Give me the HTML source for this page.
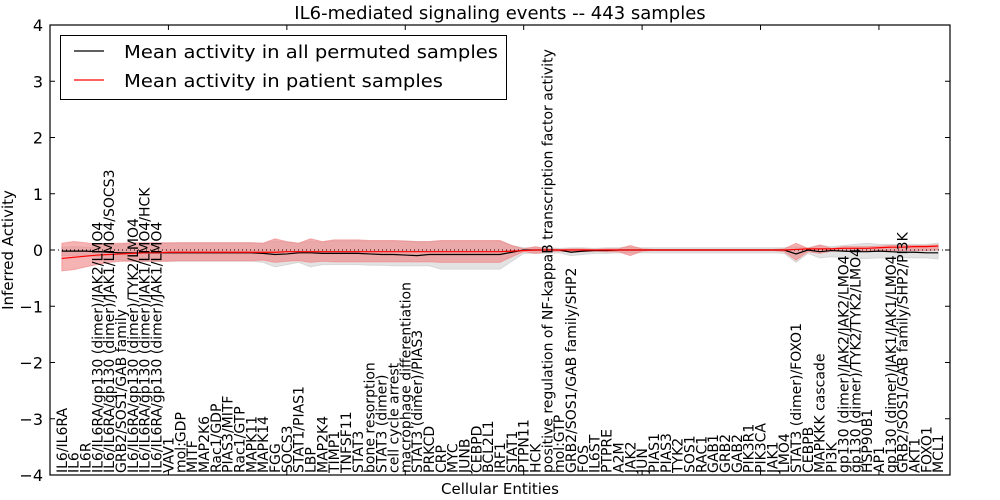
<!DOCTYPE html>
<html><head><meta charset="utf-8"><style>
html,body{margin:0;padding:0;background:#fff;}
svg{display:block;font-family:"DejaVu Sans","Liberation Sans",sans-serif;}
</style></head><body>
<svg id="chart" width="1000" height="500" xmlns="http://www.w3.org/2000/svg">
<text x="500" y="19" font-size="18" text-anchor="middle">IL6-mediated signaling events -- 443 samples</text>
<text x="500" y="494" font-size="15" text-anchor="middle">Cellular Entities</text>
<text transform="translate(13,250) rotate(-90)" font-size="15" text-anchor="middle">Inferred Activity</text>
<g id="plot"></g>
</svg>
<script>
const categories=["IL6/IL6RA","IL6","IL6R","IL6/IL6RA/gp130 (dimer)/JAK2/LMO4","IL6/IL6RA/gp130 (dimer)/JAK1/LMO4/SOCS3","GRB2/SOS1/GAB family","IL6/IL6RA/gp130 (dimer)/TYK2/LMO4","IL6/IL6RA/gp130 (dimer)/JAK1/LMO4/HCK","IL6/IL6RA/gp130 (dimer)/JAK1/LMO4","VAV1","mol:GDP","MITF","MAP2K6","Rac1/GDP","PIAS3/MITF","Rac1/GTP","MAPK11","MAPK14","FGG","SOCS3","STAT1/PIAS1","LBP","MAP2K4","TIMP1","TNFSF11","STAT3","bone resorption","STAT3 (dimer)","cell cycle arrest","macrophage differentiation","STAT3 (dimer)/PIAS3","PRKCD","CRP","MYC","JUNB","CEBPD","BCL2L1","IRF1","STAT1","PTPN11","HCK","positive regulation of NF-kappaB transcription factor activity","mol:GTP","GRB2/SOS1/GAB family/SHP2","FOS","IL6ST","PTPRE","A2M","JAK2","JUN","PIAS1","PIAS3","TYK2","SOS1","RAC1","GAB1","GRB2","GAB2","PIK3R1","PIK3CA","JAK1","LMO4","STAT3 (dimer)/FOXO1","CEBPB","MAPKKK cascade","PI3K","gp130 (dimer)/JAK2/JAK2/LMO4","gp130 (dimer)/TYK2/TYK2/LMO4","HSP90B1","AP1","gp130 (dimer)/JAK1/JAK1/LMO4","GRB2/SOS1/GAB family/SHP2/PI3K","AKT1","FOXO1","MCL1"];
const patientMean=[-0.15,-0.13,-0.11,-0.09,-0.08,-0.07,-0.06,-0.05,-0.05,-0.04,-0.04,-0.04,-0.04,-0.04,-0.04,-0.04,-0.04,-0.04,-0.04,-0.03,-0.03,-0.03,-0.03,-0.03,-0.03,-0.03,-0.03,-0.03,-0.03,-0.03,-0.03,-0.03,-0.03,-0.03,-0.03,-0.03,-0.03,-0.03,-0.02,-0.01,0,0,0,0,0,0,0,0,0,0,0,0,0,0,0,0,0,0,0,0,0,0,0.01,0.02,0.02,0.02,0.03,0.03,0.03,0.04,0.05,0.05,0.06,0.06,0.07];
const patientHi=[0.12,0.15,0.13,0.1,0.12,0.12,0.13,0.13,0.13,0.13,0.13,0.13,0.13,0.13,0.13,0.13,0.13,0.12,0.2,0.15,0.12,0.2,0.15,0.18,0.18,0.18,0.17,0.17,0.17,0.16,0.15,0.15,0.17,0.17,0.17,0.17,0.17,0.17,0.08,0.02,0.06,0.02,0.01,0.02,0.02,0.01,0.02,0.02,0.08,0.02,0.01,0.01,0.01,0.01,0.01,0.01,0.01,0.01,0.01,0.01,0.01,0.02,0.12,0.03,0.09,0.03,0.06,0.06,0.06,0.07,0.08,0.08,0.08,0.08,0.09];
const patientLo=[-0.37,-0.35,-0.3,-0.26,-0.22,-0.2,-0.2,-0.2,-0.2,-0.2,-0.19,-0.19,-0.19,-0.19,-0.19,-0.19,-0.19,-0.18,-0.22,-0.2,-0.19,-0.22,-0.2,-0.21,-0.21,-0.21,-0.21,-0.21,-0.21,-0.21,-0.21,-0.21,-0.22,-0.22,-0.22,-0.22,-0.22,-0.22,-0.12,-0.03,-0.06,-0.03,-0.02,-0.03,-0.03,-0.02,-0.03,-0.03,-0.1,-0.02,-0.01,-0.01,-0.01,-0.01,-0.01,-0.01,-0.01,-0.01,-0.01,-0.01,-0.01,-0.03,-0.18,-0.03,-0.06,-0.02,-0.02,-0.02,-0.02,-0.02,-0.01,-0.01,-0.01,-0.01,0];
const permMean=[-0.02,-0.02,-0.02,-0.03,-0.04,-0.05,-0.05,-0.05,-0.05,-0.05,-0.05,-0.05,-0.05,-0.05,-0.05,-0.05,-0.05,-0.06,-0.08,-0.07,-0.05,-0.05,-0.06,-0.06,-0.06,-0.06,-0.07,-0.08,-0.08,-0.09,-0.1,-0.08,-0.08,-0.08,-0.08,-0.08,-0.08,-0.08,-0.04,0,0,0,0,-0.04,-0.02,-0.01,-0.01,0,0,0,0,0,0,0,0,0,0,0,0,0,0,0,-0.07,0,-0.03,-0.01,-0.02,-0.03,-0.03,-0.02,-0.03,-0.04,-0.04,-0.05,-0.05];
const permHi=[0.05,0.06,0.05,0.05,0.08,0.1,0.12,0.12,0.12,0.12,0.13,0.13,0.13,0.13,0.13,0.13,0.13,0.12,0.16,0.14,0.12,0.16,0.14,0.16,0.16,0.16,0.16,0.16,0.16,0.16,0.15,0.15,0.16,0.16,0.16,0.16,0.16,0.16,0.08,0.04,0.04,0.04,0.03,0.04,0.04,0.03,0.04,0.04,0.05,0.04,0.04,0.04,0.04,0.04,0.04,0.04,0.04,0.04,0.04,0.04,0.04,0.04,0.06,0.04,0.08,0.06,0.08,0.1,0.12,0.1,0.1,0.1,0.1,0.1,0.12];
const permLo=[-0.1,-0.1,-0.1,-0.12,-0.16,-0.18,-0.2,-0.2,-0.2,-0.2,-0.2,-0.2,-0.2,-0.2,-0.2,-0.2,-0.2,-0.22,-0.3,-0.26,-0.22,-0.3,-0.26,-0.26,-0.26,-0.26,-0.27,-0.27,-0.28,-0.28,-0.28,-0.28,-0.34,-0.34,-0.34,-0.34,-0.34,-0.34,-0.2,-0.06,-0.06,-0.06,-0.05,-0.1,-0.08,-0.06,-0.06,-0.05,-0.05,-0.05,-0.05,-0.05,-0.05,-0.05,-0.05,-0.05,-0.05,-0.05,-0.05,-0.05,-0.05,-0.06,-0.22,-0.06,-0.14,-0.12,-0.14,-0.15,-0.15,-0.14,-0.14,-0.14,-0.14,-0.14,-0.16];
const yTicks=[4,3,2,1,0,-1,-2,-3,-4];
const xTicks=[10,20,30,40,50,60,70];

const L=50,R=950,T=25,B=475,XMAX=76,YMIN=-4,YMAX=4;
const sx=v=>L+v/XMAX*(R-L);
const sy=v=>T+(YMAX-v)/(YMAX-YMIN)*(B-T);
const NS="http://www.w3.org/2000/svg";
const g=document.getElementById('plot');
function mk(tag,attrs,parent){const e=document.createElementNS(NS,tag);for(const k in attrs)e.setAttribute(k,attrs[k]);(parent||g).appendChild(e);return e;}
function band(hi,lo){let d='';hi.forEach((v,i)=>{d+=(i?'L':'M')+sx(i+1)+','+sy(v);});for(let i=lo.length-1;i>=0;i--)d+='L'+sx(i+1)+','+sy(lo[i]);return d+'Z';}
function line(arr){return arr.map((v,i)=>(i?'L':'M')+sx(i+1)+','+sy(v)).join('');}

let e;
e=mk('path',{d:band(permHi,permLo),fill:'#c8c8c8','fill-opacity':'0.5',stroke:'#c8c8c8','stroke-opacity':'0.6'});


e=mk('path',{d:band(patientHi,patientLo),fill:'#f08080','fill-opacity':'0.6',stroke:'#f08080','stroke-opacity':'0.6'});


e=mk('line',{x1:L,x2:R,y1:sy(0),y2:sy(0),stroke:'#000','stroke-dasharray':'1,3','stroke-width':1});


e=mk('path',{d:line(permMean),fill:'none',stroke:'#000','stroke-width':1.2});


e=mk('path',{d:line(patientMean),fill:'none',stroke:'#ff0000','stroke-width':1.2});



yTicks.forEach(v=>{
  const t=mk('line',{x1:L,x2:L+5,y1:sy(v),y2:sy(v),stroke:'#000'});
  
  
  const t2=mk('line',{x1:R-5,x2:R,y1:sy(v),y2:sy(v),stroke:'#000'});
  
  
  const lb=mk('text',{x:L-7,y:sy(v)+6,'font-size':16,'text-anchor':'end'});
  lb.textContent=(v<0?'\u2212'+(-v):String(v));
  
  
});
xTicks.forEach(v=>{
  const t=mk('line',{x1:sx(v),x2:sx(v),y1:T,y2:T+5,stroke:'#000'});
  
  
  const t2=mk('line',{x1:sx(v),x2:sx(v),y1:B-5,y2:B,stroke:'#000'});
  
  
});
categories.forEach((c,i)=>{
  const x=sx(i+1)+5;
  const lb=mk('text',{transform:'translate('+x+','+(B-2)+') rotate(-90)','font-size':14});
  lb.textContent=c;
  
  
});
e=mk('rect',{x:L,y:T,width:R-L,height:B-T,fill:'none',stroke:'#000','stroke-width':1.2});



const lg=mk('g',{});


e=mk('rect',{x:60.5,y:35.5,width:446,height:64,fill:'#fff',stroke:'#000'},lg);


e=mk('line',{x1:74,x2:104,y1:51,y2:51,stroke:'#000','stroke-width':1.2},lg);


e=mk('text',{x:124,y:58,'font-size':18,textLength:374,lengthAdjust:'spacingAndGlyphs'},lg);
e.textContent='Mean activity in all permuted samples';


e=mk('line',{x1:74,x2:104,y1:80,y2:80,stroke:'#ff0000','stroke-width':1.2},lg);


e=mk('text',{x:124,y:87,'font-size':18,textLength:319,lengthAdjust:'spacingAndGlyphs'},lg);
e.textContent='Mean activity in patient samples';


</script>
</body></html>
